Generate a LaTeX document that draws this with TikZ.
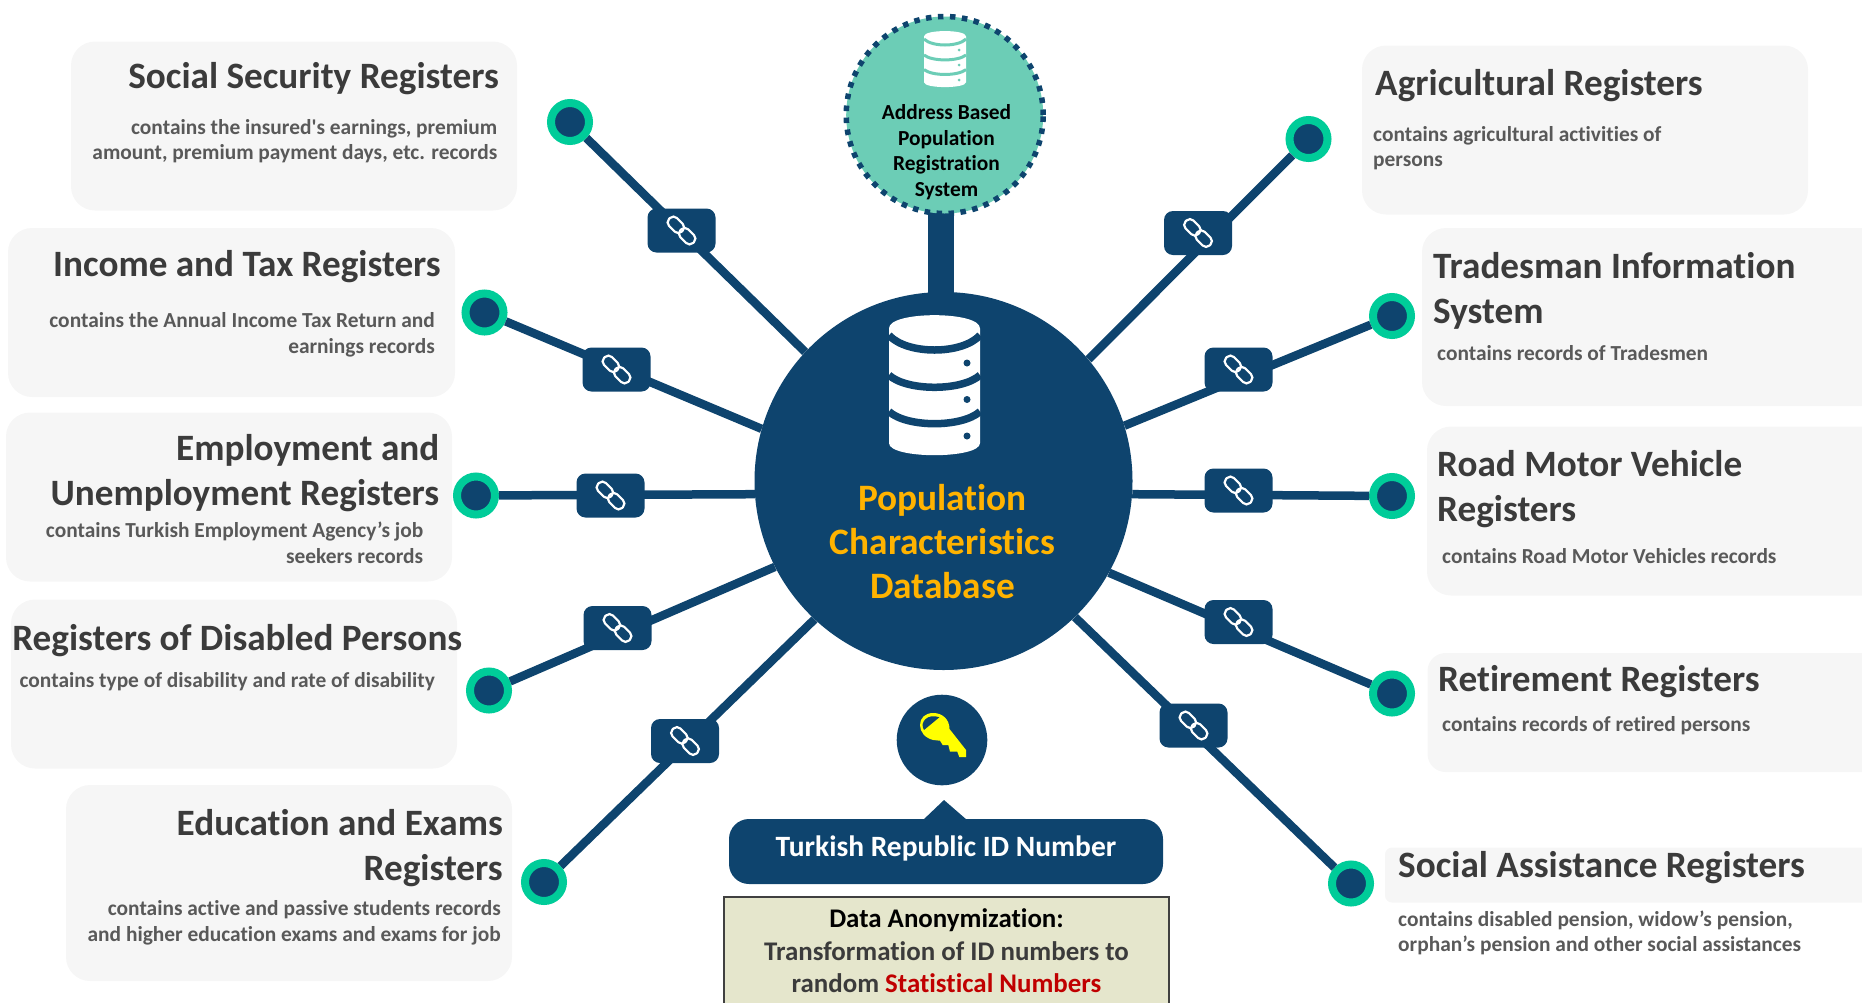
\documentclass[tikz,border=0pt]{standalone}
\usepackage{fontspec}
\defaultfontfeatures[\rmfamily]{}
\setmainfont{Carlito}[Ligatures=NoCommon]
\definecolor{navy}{HTML}{0E446E}
\definecolor{ringgreen}{HTML}{00CC99}
\definecolor{topgreen}{HTML}{6CCDB6}
\definecolor{boxgray}{HTML}{F6F6F6}
\definecolor{headgray}{HTML}{3B3B3B}
\definecolor{bodygray}{HTML}{595959}
\definecolor{hubgold}{HTML}{FFB300}
\definecolor{anonfill}{HTML}{E5E6CC}
\definecolor{keyyellow}{HTML}{FFFF00}
\definecolor{statred}{HTML}{C00000}
\tikzset{
  regbox/.style={rectangle,rounded corners=24pt,fill=boxgray,inner sep=0pt},
  reghead/.style={inner sep=0pt,text=headgray,font=\fontsize{37.2}{45}\selectfont\bfseries},
  regtext/.style={inner sep=0pt,text=bodygray,font=\fontsize{21.4}{25.5}\selectfont\bfseries},
  leaf/.style={circle,draw=ringgreen,fill=navy,line width=8pt,minimum size=38pt,inner sep=0pt},
  linkbox/.style={rectangle,rounded corners=9pt,fill=navy,minimum width=68pt,minimum height=44pt,inner sep=0pt},
  spoke/.style={draw=navy,line width=8.5pt},
  pics/chainlink/.style={code={
    \draw[white,line width=2.2pt,rounded corners=5pt,rotate=-45] (-17,-5.6) rectangle (1,5.6);
    \draw[white,line width=2.2pt,rounded corners=5pt,rotate=-45] (-1,-5.6) rectangle (17,5.6);
  }},
  pics/dbicon/.style={code={
    \fill[white] (-1,-0.81) .. controls (-1,-1.06) and (1,-1.06) .. (1,-0.81) -- (1,0.83) .. controls (1,1.06) and (-1,1.06) .. (-1,0.83) -- cycle;
    \draw[#1] (-1,-0.71) .. controls (-0.6,-0.43) and (0.6,-0.43) .. (1,-0.71);
    \draw[#1] (-1,-0.14) .. controls (-0.6,0.09) and (0.6,0.09) .. (1,-0.14);
    \draw[#1] (-1,0.38) .. controls (-0.6,0.61) and (0.6,0.61) .. (1,0.38);
  }},
}
\begin{document}
\begin{tikzpicture}[x=1pt,y=-1pt]
\useasboundingbox (0,0) rectangle (1862,1002);
\clip (0,0) rectangle (1862,1002);

\node[regbox,minimum width=446pt,minimum height=169pt] (boxsocial) at (294,126) {};
\node[regbox,minimum width=447pt,minimum height=169pt] (boxincome) at (231.5,312.5) {};
\node[regbox,minimum width=446pt,minimum height=169pt] (boxemploy) at (229,497) {};
\node[regbox,minimum width=446pt,minimum height=169pt] (boxdisabled) at (234,684) {};
\node[regbox,minimum width=446pt,minimum height=196pt] (boxeducation) at (289,883) {};
\node[regbox,minimum width=446pt,minimum height=169pt] (boxagri) at (1585,130) {};
\node[regbox,minimum width=470pt,minimum height=178pt] (boxtrades) at (1657,317) {};
\node[regbox,minimum width=470pt,minimum height=169pt] (boxroad) at (1662,511) {};
\node[regbox,minimum width=470pt,minimum height=119pt,rounded corners=18pt] (boxretire) at (1662.5,712.5) {};
\node[regbox,minimum width=490pt,minimum height=55pt,rounded corners=7pt] (boxassist) at (1630,875) {};

\node[circle,fill=navy,minimum size=378pt,inner sep=0pt] (hub) at (943.5,481) {};

\coordinate (stemtop) at (941,205);
\coordinate (stembot) at (941,298);
\draw[navy,line width=26pt] (stemtop) -- (stembot);

\node[circle,fill=topgreen,draw=navy,line width=5.5pt,dash pattern=on 5.5pt off 6.5pt,minimum size=197pt,inner sep=0pt] (abprs) at (944.7,115) {};
\node[inner sep=0pt,align=center,font=\fontsize{21.4}{25.6}\selectfont\bfseries] (abprstext) at (946.5,152) {Address Based\\Population\\Registration\\System};

\pic[xscale=21,yscale=28] at (945,59) {dbicon={topgreen,line width=3pt}};
\fill[topgreen] (959,50) circle (1.5) (959,65) circle (1.5) (959,80) circle (1.5);

\pic[xscale=45.5,yscale=70] at (934.5,385) {dbicon={navy,line width=7.5pt}};
\fill[navy] (967,363) circle (3.5) (967,399.5) circle (3.5) (967,436) circle (3.5);

\node[inner sep=0pt,align=center,text=hubgold,font=\fontsize{37.3}{44}\selectfont\bfseries] (hubtext) at (942.5,541.5) {Population\\Characteristics\\Database};

\node[leaf] (leafsocial) at (570,122) {};
\node[leaf] (leafincome) at (484.5,312.5) {};
\node[leaf] (leafemploy) at (476,495.5) {};
\node[leaf] (leafdisabled) at (489,690.5) {};
\node[leaf] (leafeducation) at (544,882) {};
\node[leaf] (leafagri) at (1308.5,139) {};
\node[leaf] (leaftrades) at (1392,316) {};
\node[leaf] (leafroad) at (1392,496) {};
\node[leaf] (leafretire) at (1392,693.5) {};
\node[leaf] (leafassist) at (1351,883.5) {};

\draw[spoke] (leafsocial) -- (hub.137);
\draw[spoke] (leafincome) -- (hub.164.3);
\draw[spoke] (leafemploy) -- (hub.184.1);
\draw[spoke] (leafdisabled) -- (hub.207.5);
\draw[spoke] (leafeducation) -- (hub.227.6);
\draw[spoke] (leafagri) -- (hub.40.7);
\draw[spoke] (leaftrades) -- (hub.17.3);
\draw[spoke] (leafroad) -- (hub.-4.4);
\draw[spoke] (leafretire) -- (hub.-29.8);
\draw[spoke] (leafassist) -- (hub.-46);

\node[linkbox] (linksocial) at (681.5,230.5) {};
\node[linkbox] (linkincome) at (616.5,369.5) {};
\node[linkbox] (linkemploy) at (610.5,495.5) {};
\node[linkbox] (linkdisabled) at (617.5,628) {};
\node[linkbox] (linkeducation) at (685,741) {};
\node[linkbox] (linkagri) at (1198,233) {};
\node[linkbox] (linktrades) at (1238.5,369.5) {};
\node[linkbox] (linkroad) at (1238.5,490.5) {};
\node[linkbox] (linkretire) at (1238.5,622) {};
\node[linkbox] (linkassist) at (1193.5,725.5) {};

\pic at (linksocial) {chainlink};
\pic at (linkincome) {chainlink};
\pic at (linkemploy) {chainlink};
\pic at (linkdisabled) {chainlink};
\pic at (linkeducation) {chainlink};
\pic at (linkagri) {chainlink};
\pic at (linktrades) {chainlink};
\pic at (linkroad) {chainlink};
\pic at (linkretire) {chainlink};
\pic at (linkassist) {chainlink};

\node[reghead,anchor=east] (headsocial) at (499,78.4) {Social Security Registers};
\node[regtext,anchor=east,align=right] (textsocial) at (497.5,141) {contains the insured's earnings, premium\\amount, premium payment days, etc. records};
\node[reghead,anchor=east] (headincome) at (441,266.4) {Income and Tax Registers};
\node[regtext,anchor=east,align=right] (textincome) at (435,334.7) {contains the Annual Income Tax Return and\\earnings records};
\node[reghead,anchor=east,align=right] (heademploy) at (439.5,473.4) {Employment and\\Unemployment Registers};
\node[regtext,anchor=east,align=right] (textemploy) at (423.5,543) {contains Turkish Employment Agency’s job\\seekers records};
\node[reghead,anchor=east] (headdisabled) at (462.5,640.4) {Registers of Disabled Persons};
\node[regtext,anchor=east] (textdisabled) at (435,682) {contains type of disability and rate of disability};
\node[reghead,anchor=east,align=right] (headeducation) at (503,847.9) {Education and Exams\\Registers};
\node[regtext,anchor=east,align=right] (texteducation) at (501,922.7) {contains active and passive students records\\and higher education exams and exams for job};

\node[reghead,anchor=west] (headagri) at (1375,85.4) {Agricultural Registers};
\node[regtext,anchor=west,align=left] (textagri) at (1373,148.2) {contains agricultural activities of\\persons};
\node[reghead,anchor=west,align=left] (headtrades) at (1433,290.4) {Tradesman Information\\System};
\node[regtext,anchor=west] (texttrades) at (1437,353) {contains records of Tradesmen};
\node[reghead,anchor=west,align=left] (headroad) at (1437,489.4) {Road Motor Vehicle\\Registers};
\node[regtext,anchor=west] (textroad) at (1442,556) {contains Road Motor Vehicles records};
\node[reghead,anchor=west] (headretire) at (1438,681.4) {Retirement Registers};
\node[regtext,anchor=west] (textretire) at (1442,726) {contains records of retired persons};
\node[reghead,anchor=west] (headassist) at (1398,867.8) {Social Assistance Registers};
\node[regtext,anchor=west,align=left] (textassist) at (1398,932.8) {contains disabled pension, widow’s pension,\\orphan’s pension and other social assistances};

\node[circle,fill=navy,minimum size=90.6pt,inner sep=0pt] (keydisc) at (942,740) {};
\fill[keyyellow] (933.3,713) .. controls (942,713) and (949.5,719) .. (949.5,729) -- (966,750) -- (966,757) -- (959.3,757) -- (957.3,751.7) -- (950,751.7) -- (948.3,745) -- (942.7,745) -- (940,740.7) -- (933.3,740) .. controls (925,738) and (920,732) .. (920,725) .. controls (920,718) and (925,713) .. (933.3,713) -- cycle;
\fill[navy] (924,730) .. controls (919,722) and (928,713) .. (939.3,717.3) -- cycle;

\fill[navy] (923,820) -- (944,800) -- (967,820) -- cycle;
\node[rectangle,rounded corners=20pt,fill=navy,minimum width=434pt,minimum height=65pt,inner sep=0pt] (idnumber) at (946,851.5) {};
\node[inner sep=0pt,text=white,font=\fontsize{29.5}{34}\selectfont\bfseries] (idtext) at (946,848) {Turkish Republic ID Number};

\node[rectangle,draw=black!75,fill=anonfill,line width=2pt,minimum width=445pt,minimum height=130pt,inner sep=0pt] (anonbox) at (946.5,962) {};
\node[inner sep=0pt,align=center,text=headgray,font=\fontsize{26.9}{32.5}\selectfont\bfseries] (anontext) at (946.5,951) {\textcolor{black}{Data Anonymization:}\\Transformation of ID numbers to\\random \textcolor{statred}{Statistical Numbers}};
\end{tikzpicture}
\end{document}
